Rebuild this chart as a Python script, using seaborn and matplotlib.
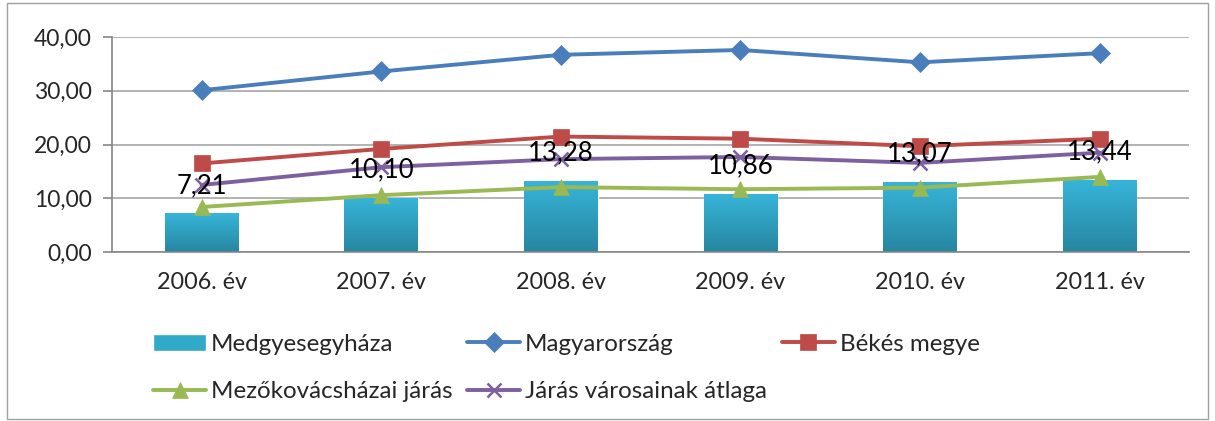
import numpy as np
import pandas as pd
import matplotlib
matplotlib.use("Agg")
import matplotlib.pyplot as plt
import seaborn as sns
from matplotlib.patches import Rectangle
from matplotlib.ticker import FuncFormatter

years = ["2006. év", "2007. év", "2008. év", "2009. év", "2010. év", "2011. év"]
medgyes = [7.21, 10.10, 13.28, 10.86, 13.07, 13.44]
magyarorszag = [30.1, 33.6, 36.7, 37.6, 35.3, 37.0]
bekes = [16.5, 19.2, 21.5, 21.1, 19.7, 21.1]
jaras_atlag = [12.5, 15.8, 17.3, 17.7, 16.6, 18.5]
mezokovacs = [8.4, 10.6, 12.1, 11.7, 12.0, 14.0]

sns.set_style("white")
plt.rcParams["font.family"] = ["Lato", "DejaVu Sans"]

fig = plt.figure(figsize=(12.15, 4.21), dpi=100)
ax = fig.add_axes([0.092, 0.401, 0.887, 0.511])

df = pd.DataFrame({"ev": years, "ertek": medgyes})
sns.barplot(data=df, x="ev", y="ertek", color="#31A9C9", width=0.41,
            saturation=1, ax=ax, label="Medgyesegyháza", zorder=2)

# gradient fill on the bars
grad = np.linspace(0, 1, 256).reshape(-1, 1)
cmap = matplotlib.colors.LinearSegmentedColormap.from_list("g", ["#2786A0", "#37B5DA"])
for bar in ax.patches:
    x0, y0 = bar.get_x(), bar.get_y()
    w, h = bar.get_width(), bar.get_height()
    im = ax.imshow(grad, cmap=cmap, extent=[x0, x0 + w, y0, y0 + h],
                   origin="lower", aspect="auto", zorder=2.1)
    im.set_clip_path(bar)

xs = np.arange(len(years))
lines = [
    (magyarorszag, "Magyarország", "#4A7EBB", "D", 10),
    (bekes, "Békés megye", "#BE4B48", "s", 11),
    (mezokovacs, "Mezőkovácsházai járás", "#98B954", "^", 11),
    (jaras_atlag, "Járás városainak átlaga", "#7D60A0", "x", 10),
]
for vals, name, col, mk, ms in lines:
    sns.lineplot(x=xs, y=vals, color=col, marker=mk, markersize=ms, linewidth=2.8,
                 markeredgecolor=col, markeredgewidth=1.8 if mk == "x" else 0.5,
                 label=name, ax=ax, zorder=3)

for i, v in enumerate(medgyes):
    ax.annotate(f"{v:.2f}".replace(".", ","), (i, v), xytext=(0, 20),
                textcoords="offset points", ha="center", va="center",
                fontsize=18.5, color="black", zorder=5)

ax.set_xlim(-0.5, 5.5)
ax.set_ylim(0, 40)
ax.set_yticks([0, 10, 20, 30, 40])
ax.yaxis.set_major_formatter(FuncFormatter(lambda v, p: f"{v:.2f}".replace(".", ",")))
ax.set_xticks(xs)
ax.set_xticklabels(years)
ax.set_xticks(np.arange(-0.5, 6, 1), minor=True)
ax.tick_params(axis="x", which="major", length=0, labelsize=16.8, pad=14)
ax.tick_params(axis="x", which="minor", length=6, color="#868686", width=1.2)
ax.tick_params(axis="y", which="major", length=6.5, color="#868686", width=1.2,
               labelsize=16.5, left=True, pad=8)
ax.set_xlabel("")
ax.set_ylabel("")
ax.grid(axis="y", color="#A6A6A6", linewidth=1.2, zorder=0)
ax.set_axisbelow(True)
for s in ["top", "right"]:
    ax.spines[s].set_visible(False)
for s in ["left", "bottom"]:
    ax.spines[s].set_color("#868686")
    ax.spines[s].set_linewidth(1.2)

handles, labels = ax.get_legend_handles_labels()
order = ["Medgyesegyháza", "Mezőkovácsházai járás", "Magyarország",
         "Járás városainak átlaga", "Békés megye"]
hmap = dict(zip(labels, handles))
ax.legend([hmap[k] for k in order], order, ncol=3, loc="upper left",
          bbox_to_anchor=(0.126, 0.207), bbox_transform=fig.transFigure,
          frameon=False, fontsize=17.4, handlelength=2.2, handletextpad=0.2,
          columnspacing=0.6, labelspacing=1.1, borderaxespad=0, borderpad=0)

fig.add_artist(Rectangle((0.006, 0.004), 0.988, 0.99, transform=fig.transFigure,
                         fill=False, edgecolor="#A0A0A0", linewidth=1))

fig.savefig("out.png", dpi=100)
